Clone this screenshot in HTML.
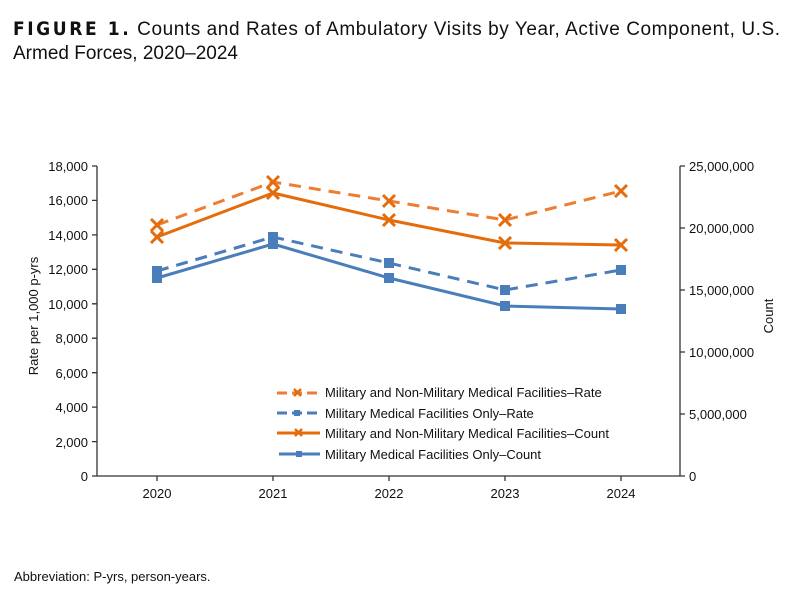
<!DOCTYPE html>
<html><head><meta charset="utf-8"><style>
body{margin:0;background:#fff;width:800px;height:600px;overflow:hidden;font-family:"Liberation Sans",Arial,sans-serif}
</style></head><body>
<svg width="800" height="600" xmlns="http://www.w3.org/2000/svg" font-family="Liberation Sans, Arial, sans-serif">
<text x="13" y="35" font-size="19" fill="#111" textLength="767" lengthAdjust="spacing"><tspan font-weight="bold" font-family="DejaVu Sans Condensed, Liberation Sans, sans-serif" letter-spacing="2">FIGURE 1.</tspan> Counts and Rates of Ambulatory Visits by Year, Active Component, U.S.</text>
<text x="13" y="59" font-size="19" fill="#111">Armed Forces, 2020–2024</text>
<g stroke="#333" stroke-width="1.3" fill="none">
<line x1="97" y1="166" x2="97" y2="476"/>
<line x1="97" y1="476" x2="680" y2="476"/>
<line x1="680" y1="166" x2="680" y2="476"/>
<path d="M92 166H97M92 200.4H97M92 234.9H97M92 269.3H97M92 303.8H97M92 338.2H97M92 372.7H97M92 407.1H97M92 441.6H97M92 476H97"/>
<path d="M680 166H685M680 228H685M680 290H685M680 352H685M680 414H685M680 476H685"/>
<path d="M157 476V481M273 476V481M389 476V481M505 476V481M621 476V481"/>
</g>
<g font-size="13" fill="#111" text-anchor="end">
<text x="88" y="171">18,000</text><text x="88" y="205">16,000</text><text x="88" y="240">14,000</text><text x="88" y="274">12,000</text><text x="88" y="309">10,000</text><text x="88" y="343">8,000</text><text x="88" y="378">6,000</text><text x="88" y="412">4,000</text><text x="88" y="447">2,000</text><text x="88" y="481">0</text>
</g>
<g font-size="13" fill="#111">
<text x="689" y="171">25,000,000</text><text x="689" y="233">20,000,000</text><text x="689" y="295">15,000,000</text><text x="689" y="357">10,000,000</text><text x="689" y="419">5,000,000</text><text x="689" y="481">0</text>
</g>
<g font-size="13" fill="#111" text-anchor="middle">
<text x="157" y="498">2020</text><text x="273" y="498">2021</text><text x="389" y="498">2022</text><text x="505" y="498">2023</text><text x="621" y="498">2024</text>
</g>
<text transform="translate(38,316) rotate(-90)" font-size="13" text-anchor="middle" fill="#111">Rate per 1,000 p-yrs</text>
<text transform="translate(773,316) rotate(-90)" font-size="13" text-anchor="middle" fill="#111">Count</text>
<g fill="none" stroke-width="3">
<polyline stroke="#ED7D31" stroke-dasharray="12,8" points="157,225 273,182 389,201 505,220 621,191"/>
<polyline stroke="#4A7EBB" stroke-dasharray="12,8" points="157,271 273,237 389,263 505,290 621,270"/>
<polyline stroke="#E46C0A" points="157,237 273,193 389,220 505,243 621,245"/>
<polyline stroke="#4A7EBB" points="157,278 273,244 389,278 505,306 621,309"/>
</g>
<g stroke="#E46C0A" stroke-width="3">
<path d="M151 219l12 12M163 219l-12 12M267 176l12 12M279 176l-12 12M383 195l12 12M395 195l-12 12M499 214l12 12M511 214l-12 12M615 185l12 12M627 185l-12 12"/>
<path d="M151 231l12 12M163 231l-12 12M267 187l12 12M279 187l-12 12M383 214l12 12M395 214l-12 12M499 237l12 12M511 237l-12 12M615 239l12 12M627 239l-12 12"/>
</g>
<g fill="#4A7EBB">
<rect x="152" y="266" width="10" height="10"/><rect x="268" y="232" width="10" height="10"/><rect x="384" y="258" width="10" height="10"/><rect x="500" y="285" width="10" height="10"/><rect x="616" y="265" width="10" height="10"/>
<rect x="152" y="273" width="10" height="10"/><rect x="268" y="239" width="10" height="10"/><rect x="384" y="273" width="10" height="10"/><rect x="500" y="301" width="10" height="10"/><rect x="616" y="304" width="10" height="10"/>
</g>
<g stroke-width="3" fill="none">
<line x1="277" y1="393" x2="318" y2="393" stroke="#ED7D31" stroke-dasharray="10,5"/>
<line x1="277" y1="413" x2="318" y2="413" stroke="#4A7EBB" stroke-dasharray="10,5"/>
<line x1="277" y1="433" x2="320" y2="433" stroke="#E46C0A"/>
<line x1="279" y1="454" x2="320" y2="454" stroke="#4A7EBB"/>
<path d="M294 389l7 7M301 389l-7 7M295 429l7 7M302 429l-7 7" stroke="#E46C0A" stroke-width="2.5"/>
</g>
<rect x="294" y="410" width="6" height="6" fill="#4A7EBB"/><rect x="296" y="451" width="6" height="6" fill="#4A7EBB"/>
<g font-size="13" fill="#111">
<text x="325" y="397">Military and Non-Military Medical Facilities–Rate</text>
<text x="325" y="418">Military Medical Facilities Only–Rate</text>
<text x="325" y="438">Military and Non-Military Medical Facilities–Count</text>
<text x="325" y="459">Military Medical Facilities Only–Count</text>
</g>
<text x="14" y="581" font-size="13" fill="#111">Abbreviation: P-yrs, person-years.</text>
</svg>
</body></html>
